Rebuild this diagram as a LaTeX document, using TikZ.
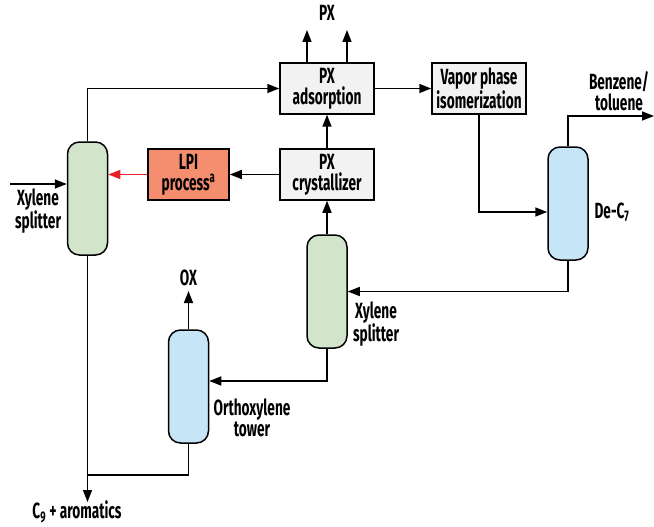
\documentclass[tikz,border=0pt]{standalone}
\usepackage{fontspec}
\setmainfont{Fira Sans}[FakeStretch=0.62]
\definecolor{colgreen}{RGB}{210,229,202}
\definecolor{colblue}{RGB}{198,229,247}
\definecolor{boxgray}{RGB}{242,242,242}
\definecolor{lpisalmon}{RGB}{244,142,110}
\definecolor{feedred}{RGB}{232,32,42}
\usetikzlibrary{arrows.meta, positioning, calc}

\begin{document}
\begin{tikzpicture}[x=1pt, y=-1pt,
    every node/.style={font=\bfseries\fontsize{22}{21}\selectfont, align=center, inner sep=0pt},
    unitbox/.style={draw, line width=1.5pt, fill=boxgray, minimum width=94pt, minimum height=51pt},
    column/.style={draw, line width=1.5pt, rounded corners=12pt, minimum width=40pt, minimum height=113pt},
    flow/.style={line width=1.5pt, -{Triangle[length=12pt, width=9pt]}}]
        \useasboundingbox (0,0) rectangle (654,527);
        % Xylene splitter (left)
        \node[column, fill=colgreen] (xsa) at (87.5,198.5) {};
        \node (xsalbl) at (38,211) {Xylene\\splitter};
        \coordinate (feedin) at (10,184);
        \draw[flow] (feedin) -- (feedin -| xsa.west);
        % LPI process and PX crystallizer
        \node[unitbox, fill=lpisalmon, minimum width=81pt] (lpi) at (188.5,174.5) {LPI\\process\textsuperscript{a}};
        \node[unitbox] (cryst) at (327,174.5) {PX\\crystallizer};
        \draw[flow] (cryst.west) -- (lpi.east);
        \draw[flow, feedred] (lpi.west) -- (lpi.west -| xsa.east);
        % PX adsorption
        \node[unitbox] (adsorp) at (327,88.5) {PX\\adsorption};
        \draw[flow] (xsa.north) |- (adsorp.west);
        \draw[flow] (cryst.north) -- (adsorp.south);
        \coordinate (pxa) at (307,30);
        \coordinate (pxb) at (347,30);
        \draw[flow] (pxa |- adsorp.north) -- (pxa);
        \draw[flow] (pxb |- adsorp.north) -- (pxb);
        \node (px) at (327,13) {PX};
        % Vapor phase isomerization
        \node[unitbox] (vapor) at (479,88.5) {Vapor phase\\isomerization};
        \draw[flow] (adsorp.east) -- (vapor.west);
        % De-C7
        \node[column, fill=colblue] (dec) at (568,203.5) {};
        \node (declbl) at (612,212) {De-C\textsubscript{7}};
        \draw[flow] (vapor.south) |- ([yshift=-8.5pt]dec.west);
        \coordinate (btout) at (654,116);
        \draw[flow] (dec.north) |- (btout);
        \node (btlbl) at (619,91) {Benzene/\\toluene};
        % Xylene splitter (middle)
        \node[column, fill=colgreen] (xsb) at (327,291.5) {};
        \node (xsblbl) at (376,324) {Xylene\\splitter};
        \draw[flow] (dec.south) |- (xsb.east);
        \draw[flow] (xsb.north) -- (cryst.south);
        % Orthoxylene tower
        \node[column, fill=colblue] (ox) at (188.5,386.5) {};
        \node (oxlbl) at (252,418) {Orthoxylene\\tower};
        \draw[flow] (xsb.south) |- ([yshift=5.5pt]ox.east);
        \coordinate (oxout) at (188.5,291);
        \draw[flow] (ox.north) -- (oxout);
        \node (oxtxt) at (188.5,278) {OX};
        % C9 + aromatics
        \coordinate (cnine) at (87.5,502);
        \coordinate (cjoin) at (87.5,475);
        \draw[flow] (xsa.south) -- (cnine);
        \draw[line width=1.5pt] (ox.south) |- (cjoin);
        \node (cninelbl) at (77,512) {C\textsubscript{9} + aromatics};
      \end{tikzpicture}
\end{document}
